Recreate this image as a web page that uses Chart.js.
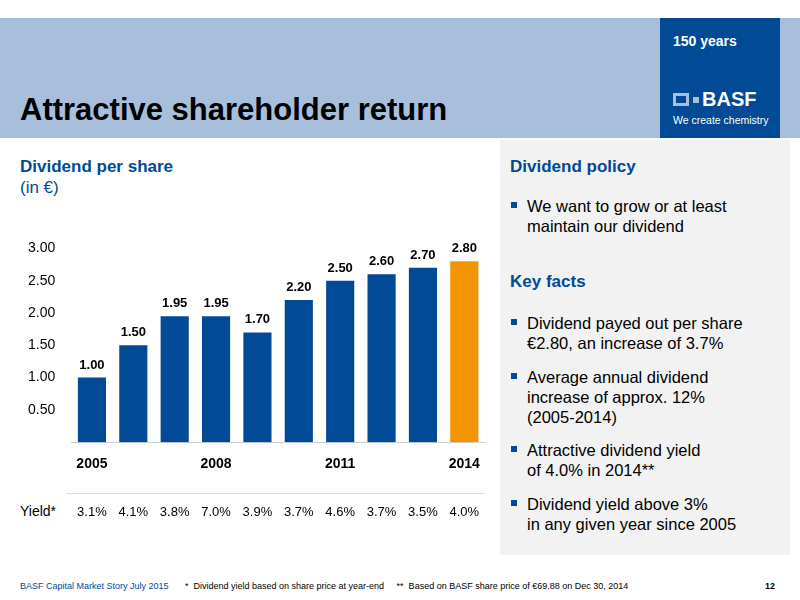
<!DOCTYPE html>
<html><head><meta charset="utf-8">
<script src="https://cdn.jsdelivr.net/npm/chart.js@4"></script>
<style>
body{margin:0;width:800px;height:600px;position:relative;font-family:"Liberation Sans",Arial,sans-serif;background:#fff;overflow:hidden}
.band{position:absolute;left:0;top:18px;width:800px;height:120px;background:#a7bfdb}
.logo{position:absolute;left:660px;top:18px;width:120px;height:120px;background:#004a96;color:#fff}
.title{position:absolute;left:20px;top:92px;font-size:31px;font-weight:bold;color:#000}
.panel{position:absolute;left:500px;top:140px;width:290px;height:415px;background:#f2f2f2}
.h{color:#004a96;font-weight:bold;font-size:17px;position:absolute}
.b{position:absolute;font-size:16.5px;color:#000;line-height:20px}
.b:before{content:"";position:absolute;left:-16px;top:6px;width:6px;height:6px;background:#004a96}
.foot{position:absolute;top:581px;font-size:9px;color:#000}
</style></head><body>
<div class="band"></div>
<div class="logo">
 <div style="position:absolute;left:13px;top:15px;font-size:14px;font-weight:bold">150 years</div>
 <div style="position:absolute;left:13px;top:75px;width:16px;height:13px;border:3px solid #a7bfdb;box-sizing:border-box"></div>
 <div style="position:absolute;left:33px;top:79px;width:6px;height:6px;background:#a7bfdb"></div>
 <div style="position:absolute;left:42px;top:70px;font-size:20px;font-weight:bold">BASF</div>
 <div style="position:absolute;left:13px;top:96px;font-size:10.5px">We create chemistry</div>
</div>
<div class="title">Attractive shareholder return</div>
<div class="h" style="left:20px;top:157px">Dividend per share</div>
<div style="position:absolute;left:20px;top:178px;font-size:17px;color:#004a96">(in €)</div>
<div class="panel"></div>
<div class="h" style="left:510px;top:157px">Dividend policy</div>
<div class="b" style="left:527px;top:196px">We want to grow or at least<br>maintain our dividend</div>
<div class="h" style="left:510px;top:272px">Key facts</div>
<div class="b" style="left:527px;top:313px">Dividend payed out per share<br>€2.80, an increase of 3.7%</div>
<div class="b" style="left:527px;top:367px">Average annual dividend<br>increase of approx. 12%<br>(2005-2014)</div>
<div class="b" style="left:527px;top:440px">Attractive dividend yield<br>of 4.0% in 2014**</div>
<div class="b" style="left:527px;top:494px">Dividend yield above 3%<br>in any given year since 2005</div>
<div style="position:absolute;left:20px;top:503px;font-size:14px">Yield*</div>
<div style="position:absolute;left:66px;top:493px;width:418px;border-top:1px solid #ddd"></div>
<div class="foot" style="left:20px;color:#004a96">BASF Capital Market Story July 2015</div>
<div class="foot" style="left:185px">*&nbsp; Dividend yield based on share price at year-end &nbsp;&nbsp;&nbsp; **&nbsp; Based on BASF share price of €69.88 on Dec 30, 2014</div>
<div class="foot" style="left:765px;font-weight:bold">12</div>
<div style="position:absolute;left:20px;top:232px;width:475px;height:300px"><canvas id="c"></canvas></div>
<script>
const years = ['2005','2006','2007','2008','2009','2010','2011','2012','2013','2014'];
const dividends = [1.00, 1.50, 1.95, 1.95, 1.70, 2.20, 2.50, 2.60, 2.70, 2.80];
const yields = ['3.1%','4.1%','3.8%','7.0%','3.9%','3.7%','4.6%','3.7%','3.5%','4.0%'];
const shownYears = ['2005','2008','2011','2014'];

const labelPlugin = {
  id: 'labels',
  afterDatasetsDraw(chart) {
    const ctx = chart.ctx;
    const meta = chart.getDatasetMeta(0);
    ctx.save();
    ctx.textAlign = 'center';
    meta.data.forEach((bar, i) => {
      ctx.font = 'bold 13px "Liberation Sans", Arial';
      ctx.fillStyle = '#000';
      ctx.textBaseline = 'bottom';
      ctx.fillText(dividends[i].toFixed(2), bar.x, bar.y - 6);
      ctx.font = '13px "Liberation Sans", Arial';
      ctx.textBaseline = 'middle';
      ctx.fillText(yields[i], bar.x, 280);
    });
    ctx.restore();
  }
};

new Chart(document.getElementById('c'), {
  type: 'bar',
  data: {
    labels: years,
    datasets: [{
      data: dividends,
      backgroundColor: years.map(y => y === '2014' ? '#f39500' : '#004a96'),
      barPercentage: 0.68,
      categoryPercentage: 1
    }]
  },
  options: {
    responsive: true, maintainAspectRatio: false, animation: false,
    layout: {padding: {bottom: 45, right: 10}},
    plugins: {legend: {display: false}, tooltip: {enabled: false}},
    scales: {
      x: {
        grid: {display: false, drawTicks: false},
        border: {color: '#ccc'},
        ticks: {
          autoSkip: false, maxRotation: 0, padding: 14,
          color: '#000', font: {size: 14, weight: 'bold', family: '"Liberation Sans", Arial'},
          callback: (v, i) => shownYears.includes(years[i]) ? years[i] : ''
        }
      },
      y: {
        min: 0, max: 3,
        grid: {display: false},
        border: {display: false},
        afterBuildTicks: a => { a.ticks = [0.5,1,1.5,2,2.5,3].map(v => ({value: v})); },
        ticks: {color: '#000', padding: 8, font: {size: 14, family: '"Liberation Sans", Arial'},
          callback: v => v.toFixed(2)}
      }
    }
  },
  plugins: [labelPlugin]
});
</script>
</body></html>
